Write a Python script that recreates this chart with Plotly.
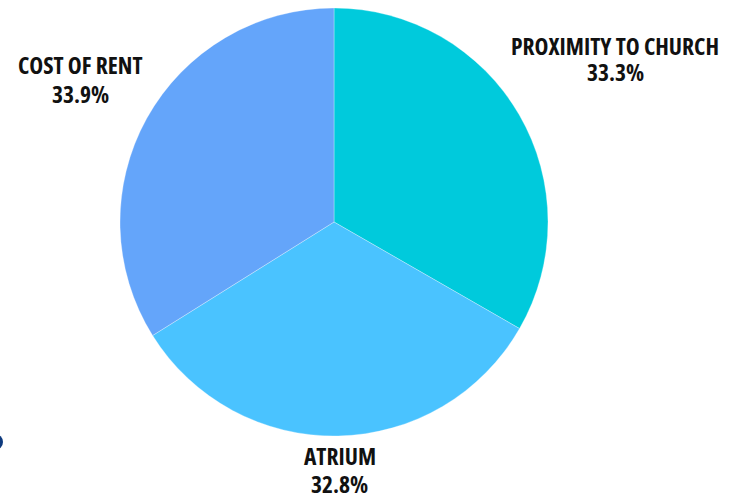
import plotly.graph_objects as go

labels = ["Proximity to Church", "Atrium", "Cost of Rent"]
values = [33.3, 32.8, 33.9]
colors = ["#00CADC", "#4AC3FF", "#64A5FA"]

# label anchor positions in pixels (layout only)
label_pos = {
    "Proximity to Church": ((615, 46), (615, 72)),
    "Atrium": ((340, 456), (339, 484)),
    "Cost of Rent": ((80, 65), (80, 94)),
}

W, H = 738, 496
L, R, T, B = 120, 190, 8, 60
pw, ph = W - L - R, H - T - B

def px2paper(x, y):
    return (x - L) / pw, (H - B - y) / ph

fig = go.Figure(go.Pie(
    labels=labels,
    values=values,
    marker=dict(colors=colors, line=dict(color="rgba(255,255,255,0.5)", width=0.6)),
    sort=False,
    direction="clockwise",
    rotation=0,
    textinfo="none",
    hoverinfo="label+percent",
    showlegend=False,
))

font = dict(family="Open Sans, sans-serif", size=23.5, color="#111111", weight=700)

def cond(s):
    return f"<span style='font-stretch:condensed'>{s}</span>"

anns = []
for lab, val in zip(labels, values):
    (lx, ly), (vx, vy) = label_pos[lab]
    ax, ay = px2paper(lx, ly)
    anns.append(dict(x=ax, y=ay, xref="paper", yref="paper", text=cond(lab.upper()),
                     showarrow=False, xanchor="center", yanchor="middle", font=font))
    bx, by = px2paper(vx, vy)
    anns.append(dict(x=bx, y=by, xref="paper", yref="paper", text=cond(f"{val:.1f}%"),
                     showarrow=False, xanchor="center", yanchor="middle", font=font))

x0, y0 = px2paper(-13, 434)
x1, y1 = px2paper(3, 450)
fig.add_shape(type="circle", xref="paper", yref="paper", x0=x0, y0=y1, x1=x1, y1=y0,
              fillcolor="#0E3A7E", line=dict(width=0))

fig.update_layout(
    width=W, height=H,
    margin=dict(l=L, r=R, t=T, b=B),
    paper_bgcolor="white",
    plot_bgcolor="white",
    annotations=anns,
)

fig.write_html("out.html", config={"displayModeBar": False},
               post_script="document.body.style.margin='0';")
